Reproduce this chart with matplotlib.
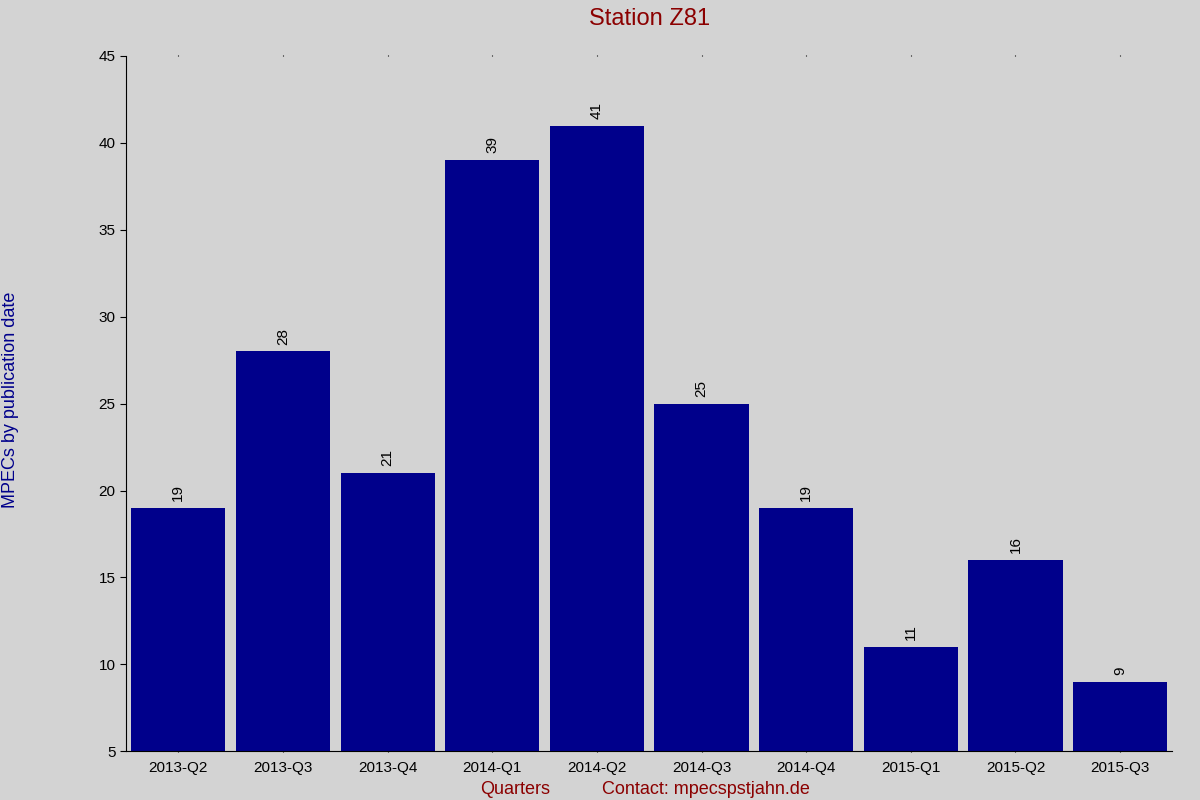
import matplotlib.pyplot as plt

plt.rcParams['font.family'] = ['Liberation Sans', 'DejaVu Sans']

quarters = ['2013-Q2', '2013-Q3', '2013-Q4', '2014-Q1', '2014-Q2',
            '2014-Q3', '2014-Q4', '2015-Q1', '2015-Q2', '2015-Q3']
counts = [19, 28, 21, 39, 41, 25, 19, 11, 16, 9]

fig = plt.figure(figsize=(12, 8), dpi=100, facecolor='#d3d3d3')
ax = fig.add_axes([0.105, 0.061, 0.872, 0.869])
ax.set_facecolor('#d3d3d3')

x = range(len(quarters))
ax.bar(x, [c - 5 for c in counts], bottom=5, width=0.9, color='#00008b')
for i, c in zip(x, counts):
    ax.text(i, c + 0.4, str(c), rotation=90, ha='center', va='bottom', fontsize=11)

ax.set_xlim(-0.5, 9.5)
ax.set_ylim(5, 45)
ax.set_yticks(range(5, 46, 5))
ax.set_xticks(list(x))
ax.set_xticklabels(quarters, fontsize=11)
ax.tick_params(axis='y', labelsize=11, length=4)
ax.tick_params(axis='x', top=True, length=1, pad=6)
for s in ['top', 'right']:
    ax.spines[s].set_visible(False)

ax.set_title('Station Z81', color='#8b0000', fontsize=17, pad=22)
fig.text(0.009, 0.5, 'MPECs by publication date', color='#00008b', fontsize=13,
         rotation=90, ha='center', va='center')
fig.text(0.4, 0.007, 'Quarters', color='#8b0000', fontsize=13)
fig.text(0.502, 0.007, 'Contact: mpecspstjahn.de', color='#8b0000', fontsize=13)

fig.savefig('out.png', dpi=100, facecolor=fig.get_facecolor())
